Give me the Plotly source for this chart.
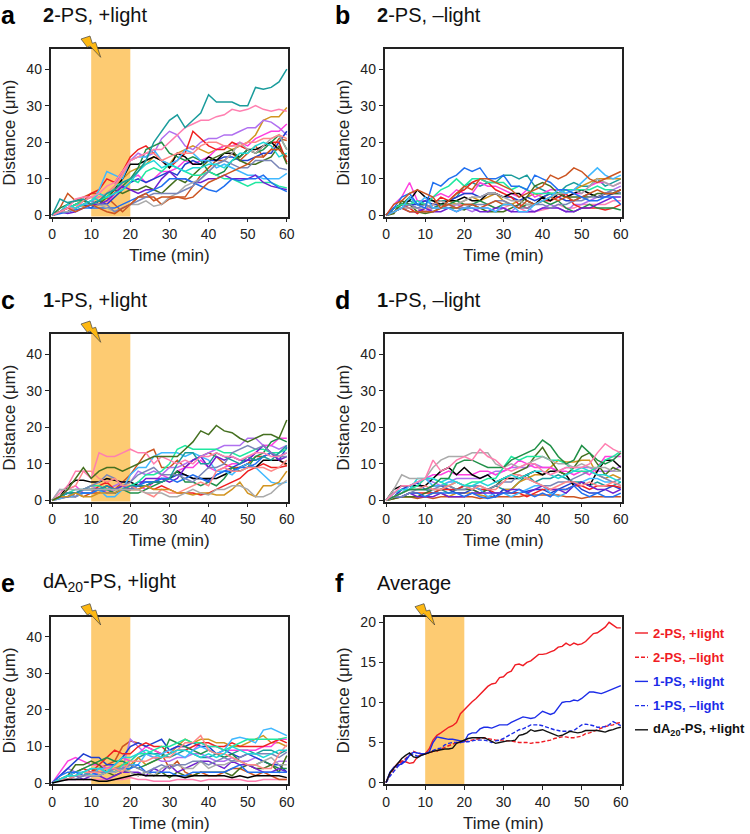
import plotly.graph_objects as go

# sampled every 2 min for the single-cell traces, every 1 min for the averages
t_cell = list(range(0, 61, 2))
t_avg = list(range(0, 61))

colors = {"teal": "#1a9c9c", "pink": "#ff7fb0", "gold": "#d29420", "brown": "#cc5522", "purple": "#b070f0",
          "magenta": "#ff40e0", "blue": "#2040d0", "red": "#f02020", "black": "#000000", "green": "#209048",
          "dkgreen": "#457020", "sky": "#40b8ff", "spring": "#20e8a0", "violet": "#7020d0", "cornflower": "#2070f0",
          "gray": "#aaaaaa", "slate": "#7a86b8", "salmon": "#ff8888", "cyan": "#20d8d8", "brown2": "#cc5522"}

# panel a: 2-PS, +light
a_gold = [0,1,2,3,2.5,3,4,6,8,10, 12,13,14,16,15,14,17,18,19,18, 17,18,19,18,19,20,22,26,27,27,29.5]
a_brown = [0,2,6,4,5,6,6,5,3,1, 3,5,5,5,3,4.5,5,5,8,11, 13,15,15,17,15,17,19,16,18,21,20.5]
a_purple = [0,1,1,2,3,4,5,6,8,12, 15,17,16,17,21,23,22,19,18,20, 21,21,22,22,23,24,24,26,25.5,24,22]
a_magenta = [0,1,3,2,4,5,4,3,6,9, 10,11,9,10,12,12,13,15,14,15, 16,18,19,19,20,19,21,22,23,23,25]
a_blue = [0,1,1,2,3,2,4,3,5,7, 9,10,9,10,11,12,11,14,15,14, 15,15,16,16,15,15,16,17,17,20,23]
a_red = [0,1,2,3,4,6,7,10,9,12, 16,18,19,17,15,13,15,17,23,21, 19,18,18,20,19,18,17,19,20,20,14.5]
a_black = [0,1,1,2,3,3,4,5,7,10, 14,14,15,16,15,13,17,16,14,14, 16,15,17,17,16,18,18,19,20,18,16]
a_green = [0,2,3,4,4,3,4,5,6,8, 10,13,18,19,20,17,16,15,16,15, 12,11,12,15,16,18,17,18,20,22,18]
a_dkgreen = [0,1,2,3,4,3,3,5,7,6, 7,7,8,7,6,8,10,9,11,13, 15,16,17,18,15,14,14,15,16,19,14]
a_sky = [0,1,2,3,3,3,7,12,11,10, 15,16,16,18,15,14,15,18,17,15, 15,13,14,13,12,11,11,10,10,10,11.5]
a_spring = [0,1,2,3,4,5,4,5,8,9, 10,9,12,13,12,14,13,12,11,11, 12,11,10,10,9,8,9,9,9,8,7.5]
a_violet = [0,1,0.5,1,2,3,3,4,6,8, 7,6,7,7,10,12,10,10,9,9, 10,10,11,10,10,10,11,9,8,7.5,7]
a_cornflower = [0,0.5,1,1.5,2,2,2,2,2,3, 4,5,6,7,8,10,10,10,9,8, 7,6.5,8,10,9.5,10,10,11,9,7.5,6.5]
a_gray = [0,1,1,2,3,4,3,2,1,2, 3,3,4,2.5,3,5,6,8,9,10, 12,14,15,17,20,18,17,19,21,22,18]
a_slate = [0,1,2,2,3,4,3,3,1,2, 3,4,5,6,6,6,6,7,8,10, 12,14,15,14,13,13,15,15,15,13,12.5]
a_salmon = [0,1,2,2,4,5,5,6,8,11, 15,16,17,17,15,16,17,17,17,19, 20,20,19,19,19,20,20,21,21,22,21]
a_cyan = [0,1,3,2,3,4,6,5,6,7, 9,12,14,15,13,14,13,12,13,13, 14,14,13,15,17,17,19,20,19,16,17]
a_brown2 = [0,1,2,1,2,3,2,1,0.5,2, 3,5,6,4,5,5,5,4.5,5,7, 9,10,11,12,13,14,16,16,18,18,16]
a_pink = [0,1,2,4.5,5,5,6,8,9,12, 15,16,17,18,18,20,22,24,25,26, 26,27,27.5,29,28.5,29,30,29,28.5,29,28.5]
a_teal = [0,4.5,3.5,4,4.5,3,4,6,7,9, 10,12,15,20,23,26,27.5,24,26,28, 33,31,31,31,30,30,35,34.5,35,36.5,40]

# panel b: 2-PS, -light
b_teal = [0,2,3,4,3,4,4,4,4,5, 8,9,8,9,9,11,11,10,11,8, 7,6,6,8,9,8,8,10,8,9,10]
b_pink = [0,1,2,2,2,1,3,3,3,3, 3,3,2,3,2,2,3,2,1,1, 1.5,2,3,2,2,3,3,3,3,4,4]
b_gold = [0,2,3,3,2,1,2,3,4,3, 4,5,4,5,6,4,3,4,5,6, 5,6,6,7,7,8,9,10,10,10,10]
b_brown = [0,3,4,6,7,6,5,2,4,6, 8,7,10,10,9,8,7,5,6,7, 8,11,10,11,13,12,10,9,10,11,12]
b_purple = [0,1,2,3,2,1,2,3,2,3, 2,1,2,2,1,2,1,3,2,1, 2,3,2,1,3,3,4,5,6,7,8]
b_magenta = [0,3,5,9,4,4,5,6,5,7, 6,6,9,8,8,7,6,5,7,5, 6,7,7,5,6,6,8,9,9,8,9]
b_blue = [0,2,3,3,3,4,3,3,4,5, 6,6,5,6,6,5,5,4,5,4, 5,6,5,4,4,5,6,5,5,6,6]
b_red = [0,2,3,2,0.5,2,3,5,4,6, 7,9,10,9,7,6,5,3,2,3, 4,4,5,6,3,2,2,2,1.5,2,3]
b_black = [0,2,3,4,7,5,4,3,4,4, 5,4,4,6,6,5,6,6,4,3, 5,4,6,5,6,7,6,5,6,6,7]
b_green = [0,1,3,5,3,3,2,3,3,4, 3,3,4,3,2,3,3,2,3,3, 4,3,4,2,1,2,3,2,2,2,1.5]
b_dkgreen = [0,0.5,4,3,1,0.5,1,2,2,2, 1.5,3,2,1,1,1,2,3,5,8, 9,8,6,5,5,5,5,6,6,6,6]
b_sky = [0,1,2,5,3,5,2,2,2,1, 2,2,2,2,1,3,3,1,1,3, 4,5,7,6,7,9,11,13,11,10,11]
b_spring = [0,2,3,3,4,3,5,7,8,10, 8,10,10,9,9,9,7,8,7,6, 6,6,6,7,7,7,7,8,7,7,6]
b_violet = [0,1,2,1,1,2,1,1,2,1, 2,2,1,1,2,2,1,1,1,1, 2,2,2,1,1,2,2,3,4,5,5]
b_cornflower = [0,2,5,6,3,2,9,8,10,11, 13,12,13,10,10,11,8,8,7,11, 10,9,7,7,6,5,4,4,5,5,3]
b_gray = [0,1,2,2,2,2,3,4,3,3, 4,5,5,6,6,5,4,4,3,3, 4,5,6,6,7,6,8,10,9,8,9]
b_slate = [0,1,2,3,2,3,2,2,3,2, 2,3,3,3,4,4,3,2,2,3, 3,2,3,3,4,4,5,5,6,7,6]
b_brown2 = [0,1,2,1,1,1,1,2,3,2, 3,3,2,3,4,3,3,2,4,3, 4,5,4,5,4,5,6,7,6,6,7]

# panel c: 1-PS, +light
c_gold = [0,1,1,2,1,1,2,2,2,3, 3,3,4,3,3,3,2,2,1.5,2, 2,1.5,1.5,3,5,2,1,4,4,5,8]
c_brown = [0,1,1,2,1,2,2,4,3,5, 7,10,13,14,9,9,11,9,11,12, 13,12,10,9,9,10,12,12,13,11,9.5]
c_purple = [0,3,2,3,3,4,3,3,4,5, 5,8,7,8,7,9,9,10,11,12, 13,14,15,15,15,17,17,15,15,14,15]
c_magenta = [0,1,3,4,2,2,4,2,3,4, 3,4,3,5,7,6,8,9,9,11, 9,8,9,10,10,11,13,15,15,17,17]
c_blue = [0,1,2,2,2,2,3,3,2,3, 3,5,5,5,6,6,7,7,6,6, 5.5,7,8,9,10,11,11,12,13,11,14.5]
c_red = [0,0.5,1,1,2,2,4,5,3,4, 3,3,4,3,4,3,2,2,2,1.5, 2,3,4,5,6,8,9,10,9,9,9.5]
c_black = [0,1,4,5.5,5.5,5,5,6,5.5,5, 5,4,4,5,5,6,8,7,6,6, 6,6,7,8,9,10,9,11,11,11,10]
c_green = [0,1,2,2,3,3,3,3,2,3, 2,2,3,4,5,6,8,5,5,4, 5,4,6,9,8,9,12,13,16,17,16]
c_dkgreen = [0,1,3,6,9,6,8,9,9,8, 9,10,11,12,12,12,12,14,16,19, 18,20.5,19,18.5,17,16,17,18,18,17,22]
c_sky = [0,0.5,1,1,2,2,3,1,1,3, 7,9,9,12,13,13,13,12,13,12, 11,8,8,7,9,10,9,7,5,4.5,5]
c_spring = [0,1,2,3,3,4,4,3,3,4, 4,5,7,7,8,10,14,15,14,14, 14,14,13,13,12,13,14,14,13,13,14]
c_violet = [0,1,1,2,3,3,3,4,3,4, 3,4,6,6,6,5,6,9,11,12, 9,12,11,12,11,11,13,15,13,11,12]
c_cornflower = [0,1,1,2,2,2,3,2,2,3, 3,4,5,5,6,6,5,6,7,6, 5,7,8,8,9,9,10,12,13,12,13]
c_gray = [0,3,3,3,3,3,3,3,3,3, 3,3,2,2,2,1,1,2,3,2, 1.5,3,3,4,4,3,1,1,2,4,5.5]
c_slate = [0,1,2,1,3,4,5,7,6,4, 5,7,8,9,7,7,7,6,5,7, 9,9,10,13,14,15,14,15,13,12,12]
c_salmon = [0,1,3,4,8,8,6,5,6,4, 4,3,2,1,3,2,2,3,4,5, 4,8,9,8,8,9,9,9,8,9,11]
c_teal = [0,1,2,2,3,3,3,4,3,3, 4,4,4,5,5,6,10,13,13,10, 10,13,12,11,10,12,11,12,11,13,15]
c_pink = [0,2,4,8,8,6,13,12,12,13, 14,13,13,10,12,11,10,11,10,12, 12,13,12,12,11,12,13,13,12,12,13]

# panel d: 1-PS, -light
d_teal = [0,1,2,3,3,3,2,3,2,3, 4,4,3,3,4,3,3,5,7,5, 6,6,7,6,5,5,4,5,4,4,5]
d_gold = [0,1,1,1,1,1,2,2,1,2, 2,2,1.5,1,1,3,3,5,6,7, 7,9,11,10.5,10.5,11,11,7,6,7,6]
d_brown = [0,0.5,1,1,0.5,1,0.5,1,1,1, 1,1,0.5,1,1,1,1,1,1.5,1.5, 1.5,1.5,1.5,1,1,0.5,1,1,1,1,1]
d_purple = [0,2,3,3,5,6,5,4,5,6, 6,6,6,7,8,8,9,9,9,10, 9,9,8,9,9,9,9,8,8,8,9.5]
d_magenta = [0,1,3,4,4,6,7,7,8,7, 7,7,8,8,7,8,9,11,10,9, 9,9,8,8,7,8,7,9,12,12,12]
d_blue = [0,1,3,4,5,3,4,4,3,2, 2,3,2,3,1,3,2,2,2.5,3, 3,2,3,4,5,3,2,2,3,4,3]
d_red = [0,1,1,2,2,2,2,3,3,3, 4,4,3,3,2,2,2,2,1,2, 3,3,3,3,4,4,3,4,4,4,3.5]
d_black = [0,3,4,4,4,4,6,8,9,7, 9,7,6,7,5,6,6,6,7,8, 7,8,8,7,4,5,4,8,11,11,9]
d_dkgreen = [0,0.5,1,1,1,2,3,3,4,3, 3,3,2,3,4,6,7,8,9,12, 14.5,11,8,7,9,12,13,10,7,9,8]
d_sky = [0,1,2,4,5,6,4,4,5,5, 4,4,3,1,2,2,1,2,3,4, 4,2,1,2,4,5,6,6,5,5,4]
d_spring = [0,1,2,3,4,6,6,5,4,5, 4,5,5,6,6,9,12,11,12,12, 12,11,11,10,8,8,8,9,11,12,13.5]
d_violet = [0,1,1,2,1,1,1,2,1,1, 1,2,2,2,2,2,3,3,2,3, 4,3,3,2,4,5,4,3,3,2,3]
d_cornflower = [0,1,1,2,2,1,2,2,2,2, 1,2,1,0.5,1,2,2,3,2,1, 2,1,3,3,4,2,1,2,1,1,2]
d_slate = [0,1,1,2,3,3,3,4,4,3, 3,4,4,3,4,5,5,7,6,5, 4,4,5,5,6,7,8,7,6,5,6]
d_salmon = [0,1,2,3,3,4,3,3,4,5, 4,3,4,3,3,5,7,7,6,5, 4,3,4,5,5,4,5,4,4,5,4]
d_cyan = [0,2,3,3,6,6,6,5,6,5, 4,4,5,4,5,6,7,6,7,8, 8,7,6,7,8,9,8,7,7,6,5]
d_gray = [0,3,7,6,6,6,9,11,12,12, 12,13,13,13,10,9,10,9,10,11, 12,11,10,10,9,10,9,9,9,8,8]
d_green = [0,1,2,3,3,3,4,6,6,10, 11,11,10,9,9,9,11,12,13,14, 16.5,15,12,10,11,15,13,11,10,11,13]
d_pink = [0,2,4,4,5,6,11,8,9,11, 12,11,14,12,11,9,8,9,10,10, 8,7,8,9,9,9,10,13,15.5,14,13]

# panel e: dA20-PS, +light
e_teal = [0,1,2,2,3,4,3,3,4,3, 4,7,8,8,8,7,8,9,8,7, 7,8,7,8,9,9,8,9,9,8,9]
e_pink = [0,1,1,1,1,1,1,1,1,1, 1.5,1,1,0.5,0.5,0.5,1,1,1,0.5, 1,1,1,1,1,0.5,0.5,1,1,1,1]
e_gold = [0,1,2,2,3,2,3,3,4,5, 5,7,5,6,7,8,10,12,11,12, 12,11,11,10,10,11,12,13,11,11,10]
e_brown = [0,1,1,2,2,3,4,5,6,10, 11.5,11,10,9,8,4,6,3,2,3, 2,2,3,4,4,3,2,3,2,1,1]
e_purple = [0,2,4,3,2,2,3,3,4,4, 12,10,8,7,6,6,7,7,8,8, 7,6,6,7,6,6,7,6,5,6,6]
e_magenta = [0,3,6,7,6,5,5,4,5,7, 6,8,10,9,8,9,10,10,9,11, 10,10,9,9,9,9,9,10,10,12,12]
e_blue = [0,2,4,6,8,7,7,5,5,7, 10,11,10,11,12,9,10,10,11,10, 10,8,9,8,7,8,7,6,5,5,3]
e_red = [0,1,2,3,4,3,5,7,9,8, 8,10,11,10,10,8,9,9,10,11, 11,10,10,11,10,10,10,10,11,12,11]
e_green = [0,1,2,3,4,5,6,7,6,6, 5,4,5,6,7,12,11,10,9,8, 9,8,7,8,6,5,5,6,5,4,4]
e_dkgreen = [0,1,2,5,5,6,5,3,2,3, 3,2,3,2,3,1.5,3,2,2,3, 3,3,3,2,4,5,4,4,5,3,7.5]
e_sky = [0,1,2,3,3,2,4,4,3,4, 5,5,8,7,8,9,8,7,9,10, 9,8,9,12,12.5,12,11,14.5,15,14,13]
e_spring = [0,1,2,2,3,2,2,3,3,5, 6,8,8,9,10,10,11,12,11,11, 10,10,9,10,11,12,12,12,12,12,12.5]
e_violet = [0,1,1,2,1,2,2,1,2,3, 3,3,2,4,3,5,3,4,5,6, 6,5,4,6,5,5,4,3,3,4,3]
e_cornflower = [0,2,3,3,2,3,2,3,3,4, 4,5,3,3,3,3,2,2,3,3, 3,3,3,4,5,3,3,3,3,3,3]
e_gray = [0,1,1,2,2,2,2,3,3,4, 3,2,3,2,4,5,5,4,4,6, 4,5,5,6,6,5,5,6,7,5,5]
e_slate = [0,1,1,1,2,3,3,3,4,4, 5,4,3,4,5,4,5,5,6,6, 5,6,7,6,7,8,8,8,8,7,8.5]
e_salmon = [0,1,1,2,3,3,3,4,4,3, 6,6,6,7,7,7,9,11,11,13, 9,8,8,7,6,5,5,4,4,8,10.5]
e_cyan = [0,1,2,2,3,4,4,3,5,7, 7,8,9,8,7,8,9,9,8,7, 8,7,8,10,9,8,8,7,8,9,9]
e_black = [0,0.5,1,1,1,1,0.5,0.5,1,1.5, 2,2.5,2,2,2,2,2,1.5,2,2, 2,2,2,1.5,2,1.5,2,2,2,2,1.5]

# panel f: averages, one value per minute
avg_2_light = [0,1.2,1.9,2.4,2.7,2.6,2.4,2.5,3.2,3.5, 3.6,4.2,5.3,5.9,6.2,6.6,6.9,7.1,7.5,8.6,
               9.1,9.7,10.1,10.5,11,11.5,12,12.3,12.4,13.1, 13.2,13.7,13.9,14.7,14.8,14.6,15,15.2,15.6,16,
               16,16.1,16.3,16.5,16.9,17,17.4,17.1,17.4,17.2, 17.3,17.6,18.1,18.6,18.7,19,19.4,20,19.6,19.3,19.3]
avg_2_dark = [0,1,1.7,2.2,2.6,3,3.5,3.9,3.7,3.6, 3.6,3.7,3.9,3.9,4.2,4.4,4.6,4.8,5,5,
              5.1,5.2,5.3,5.4,5.5,5.6,5.5,5.4,5.3,5.3, 5.3,5.2,5.2,5.1,5,5,5,4.9,5,5,
              5.1,5.2,5.3,5.5,5.6,5.7,5.7,5.6,5.6,5.7, 5.8,6.1,6.2,6.4,6.6,6.8,7,7.1,7.2,7.4,7.5]
avg_1_light = [0,1.3,1.9,2.2,2.3,2.7,3.4,3.8,3.7,3.6, 3.6,3.8,5,5.7,5.6,5.5,5.4,5.4,5.3,5.2,
               5.1,6,6.2,6.2,6.7,6.9,6.9,6.8,7,7.2, 7.2,7.2,7.5,7.7,8,8.2,8.1,8,8.1,8.5,
               8.9,8.7,8.5,8.7,9.3,10,10.1,10.1,10.3,10.2, 10.5,10.9,11.3,11.3,11.2,11.1,11.3,11.5,11.8,11.9,12.1]
avg_1_dark = [0,0.8,1.4,2,2.4,2.9,3.4,3.5,3.3,3.4, 3.6,3.8,4.1,4.2,4.3,4.7,4.9,5,5,5,
              5.1,5.1,5.2,5.3,5.3,5.3,5.2,5,5.2,5.3, 5.5,5.8,6.1,6.3,6.6,6.7,7,7.2,7.2,7.2,
              7.1,6.9,6.8,6.6,6.5,6.4,6.4,6.4,6.5,6.8, 7.2,7.3,7.2,7.1,6.9,6.9,7,7.2,7.6,7.3,7.1]
avg_da20 = [0,1.2,1.8,2.4,3,3.4,3.7,3.2,3.1,3.4, 3.6,3.7,3.9,4,4.1,4.2,4.2,4.3,4.9,5.1,
            5.3,5.5,5.6,5.6,5.6,5.6,5.4,5.1,4.9,5, 5.1,5.2,5.2,5.3,5.9,6,6.2,6.6,6.4,6.5,
            6.6,6.4,6.2,6,5.8,5.9,6.2,6.4,6.3,6.2, 6.3,6.5,6.5,6.5,6.5,6.4,6.3,6.5,6.6,6.8,6.9]

panels = [
    {"letter": "a", "title": "<b>2</b>-PS, +light", "left": 50.5, "top": 49, "ymax": 45.5, "band": True,
     "series": [("gold", a_gold), ("brown", a_brown), ("purple", a_purple), ("magenta", a_magenta), ("blue", a_blue),
                ("red", a_red), ("black", a_black), ("green", a_green), ("dkgreen", a_dkgreen), ("sky", a_sky),
                ("spring", a_spring), ("violet", a_violet), ("cornflower", a_cornflower), ("gray", a_gray),
                ("slate", a_slate), ("salmon", a_salmon), ("cyan", a_cyan), ("brown2", a_brown2),
                ("pink", a_pink), ("teal", a_teal)]},
    {"letter": "b", "title": "<b>2</b>-PS, –light", "left": 384.5, "top": 49, "ymax": 45.5, "band": False,
     "series": [("teal", b_teal), ("pink", b_pink), ("gold", b_gold), ("purple", b_purple), ("magenta", b_magenta),
                ("blue", b_blue), ("red", b_red), ("black", b_black), ("green", b_green), ("dkgreen", b_dkgreen),
                ("spring", b_spring), ("violet", b_violet), ("gray", b_gray), ("slate", b_slate),
                ("brown2", b_brown2), ("sky", b_sky), ("cornflower", b_cornflower), ("brown", b_brown)]},
    {"letter": "c", "title": "<b>1</b>-PS, +light", "left": 50.5, "top": 334, "ymax": 45.5, "band": True,
     "series": [("brown", c_brown), ("purple", c_purple), ("magenta", c_magenta), ("blue", c_blue), ("red", c_red),
                ("black", c_black), ("green", c_green), ("sky", c_sky), ("spring", c_spring), ("violet", c_violet),
                ("cornflower", c_cornflower), ("slate", c_slate), ("salmon", c_salmon), ("teal", c_teal),
                ("pink", c_pink), ("gold", c_gold), ("gray", c_gray), ("dkgreen", c_dkgreen)]},
    {"letter": "d", "title": "<b>1</b>-PS, –light", "left": 384.5, "top": 334, "ymax": 45.5, "band": False,
     "series": [("teal", d_teal), ("gold", d_gold), ("brown", d_brown), ("purple", d_purple), ("magenta", d_magenta),
                ("blue", d_blue), ("red", d_red), ("black", d_black), ("dkgreen", d_dkgreen), ("sky", d_sky),
                ("spring", d_spring), ("violet", d_violet), ("cornflower", d_cornflower), ("slate", d_slate),
                ("salmon", d_salmon), ("cyan", d_cyan), ("gray", d_gray), ("green", d_green), ("pink", d_pink)]},
    {"letter": "e", "title": "dA<sub>20</sub>-PS, +light", "left": 50.5, "top": 616.7, "ymax": 45.5, "band": True,
     "series": [("teal", e_teal), ("pink", e_pink), ("gold", e_gold), ("brown", e_brown), ("purple", e_purple),
                ("magenta", e_magenta), ("blue", e_blue), ("red", e_red), ("green", e_green), ("dkgreen", e_dkgreen),
                ("sky", e_sky), ("spring", e_spring), ("violet", e_violet), ("cornflower", e_cornflower),
                ("gray", e_gray), ("slate", e_slate), ("salmon", e_salmon), ("cyan", e_cyan), ("black", e_black)]},
    {"letter": "f", "title": "Average", "left": 384.5, "top": 616.7, "ymax": 20.7, "band": True, "series": []},
]

avg_lines = [("2-PS, +light", avg_2_light, "#f01c24", "solid"), ("2-PS, –light", avg_2_dark, "#f01c24", "dash"),
             ("1-PS, +light", avg_1_light, "#1c2ce8", "solid"), ("1-PS, –light", avg_1_dark, "#1c2ce8", "dash"),
             ("dA<sub>20</sub>-PS, +light", avg_da20, "#111111", "solid")]

W, H = 750, 834
PW, PH = 237.5, 167.5
INK = "#222222"
FONT = "Liberation Sans"

fig = go.Figure()
shapes = []
notes = []
layout = {}


def px(x):
    return x / W


def py(y):
    return 1 - y / H


for n, p in enumerate(panels, start=1):
    xname = "x" if n == 1 else f"x{n}"
    yname = "y" if n == 1 else f"y{n}"
    layout[f"xaxis{n}"] = dict(domain=[px(p["left"]), px(p["left"] + PW)], range=[-0.4, 60.3], anchor=yname, automargin=False,
                               tickvals=list(range(0, 61, 10)), ticks="outside", ticklen=4, tickwidth=1, tickcolor=INK,
                               showline=True, mirror=True, linecolor=INK, linewidth=1.5, showgrid=False, zeroline=False,
                               tickfont=dict(size=14, color=INK), title=dict(text="Time (min)", font=dict(size=17, color=INK), standoff=8))
    ymin = -0.3 if p["ymax"] > 30 else -0.2
    layout[f"yaxis{n}"] = dict(domain=[py(p["top"] + PH), py(p["top"])], range=[ymin, p["ymax"]], anchor=xname, automargin=False,
                               tickvals=list(range(0, 41, 10)) if p["ymax"] > 30 else [0, 5, 10, 15, 20],
                               ticks="outside", ticklen=4, tickwidth=1, tickcolor=INK,
                               showline=True, mirror=True, linecolor=INK, linewidth=1.5, showgrid=False, zeroline=False,
                               tickfont=dict(size=14, color=INK), title=dict(text="Distance (μm)", font=dict(size=17, color=INK), standoff=6))
    for cname, vals in p["series"]:
        fig.add_trace(go.Scatter(x=t_cell, y=vals, mode="lines", line=dict(color=colors[cname], width=1.5),
                                 xaxis=xname, yaxis=yname, showlegend=False))
    if p["band"]:
        shapes.append(dict(type="rect", xref=xname, yref=f"{yname} domain", x0=10, x1=20, y0=0, y1=1,
                           fillcolor="#fdcb72", line_width=0, layer="below"))
        # lightning bolt above the band
        bx, by = p["left"] + 30.5, p["top"] - 13
        pts = [(0, 3), (9, 0), (11.3, 7.3), (14.7, 6.3), (19.7, 21.3), (9, 10), (6.3, 11.3)]
        path = "M " + " L ".join(f"{px(bx + a)},{py(by + b)}" for a, b in pts) + " Z"
        shapes.append(dict(type="path", xref="paper", yref="paper", path=path, fillcolor="#fdb813",
                           line=dict(color="#444444", width=0.7), layer="above"))
    tx = p["left"] - 10
    ty = p["top"] - 34
    notes.append(dict(text=f"<b>{p['letter']}</b>", x=px(p["left"] - 52), y=py(ty),
                      xref="paper", yref="paper", xanchor="left", yanchor="middle", showarrow=False,
                      font=dict(size=25, color="#000000")))
    notes.append(dict(text=p["title"], x=px(tx), y=py(ty), xref="paper", yref="paper", xanchor="left", yanchor="middle",
                      showarrow=False, font=dict(size=20, color="#111111")))

for i, (label, vals, col, dash) in enumerate(avg_lines):
    fig.add_trace(go.Scatter(x=t_avg, y=vals, mode="lines", line=dict(color=col, width=1.4, dash="4px,2px" if dash == "dash" else "solid"),
                             xaxis="x6", yaxis="y6", showlegend=False))
    ly = 633 + 24.2 * i
    shapes.append(dict(type="line", xref="paper", yref="paper", x0=px(635), x1=px(648), y0=py(ly), y1=py(ly),
                       line=dict(color=col, width=1.4, dash="4px,2px" if dash == "dash" else "solid")))
    notes.append(dict(text=f"<b>{label}</b>", x=px(651), y=py(ly), xref="paper", yref="paper", xanchor="left", yanchor="middle",
                      showarrow=False, font=dict(size=13, color=col)))

fig.update_layout(width=W, height=H, autosize=False, margin=dict(l=0, r=0, t=0, b=0), paper_bgcolor="white", plot_bgcolor="white",
                  font=dict(family=FONT), shapes=shapes, annotations=notes, **layout)
fig.write_html("out.html", config={"displayModeBar": False}, post_script="document.body.style.margin='0';")
